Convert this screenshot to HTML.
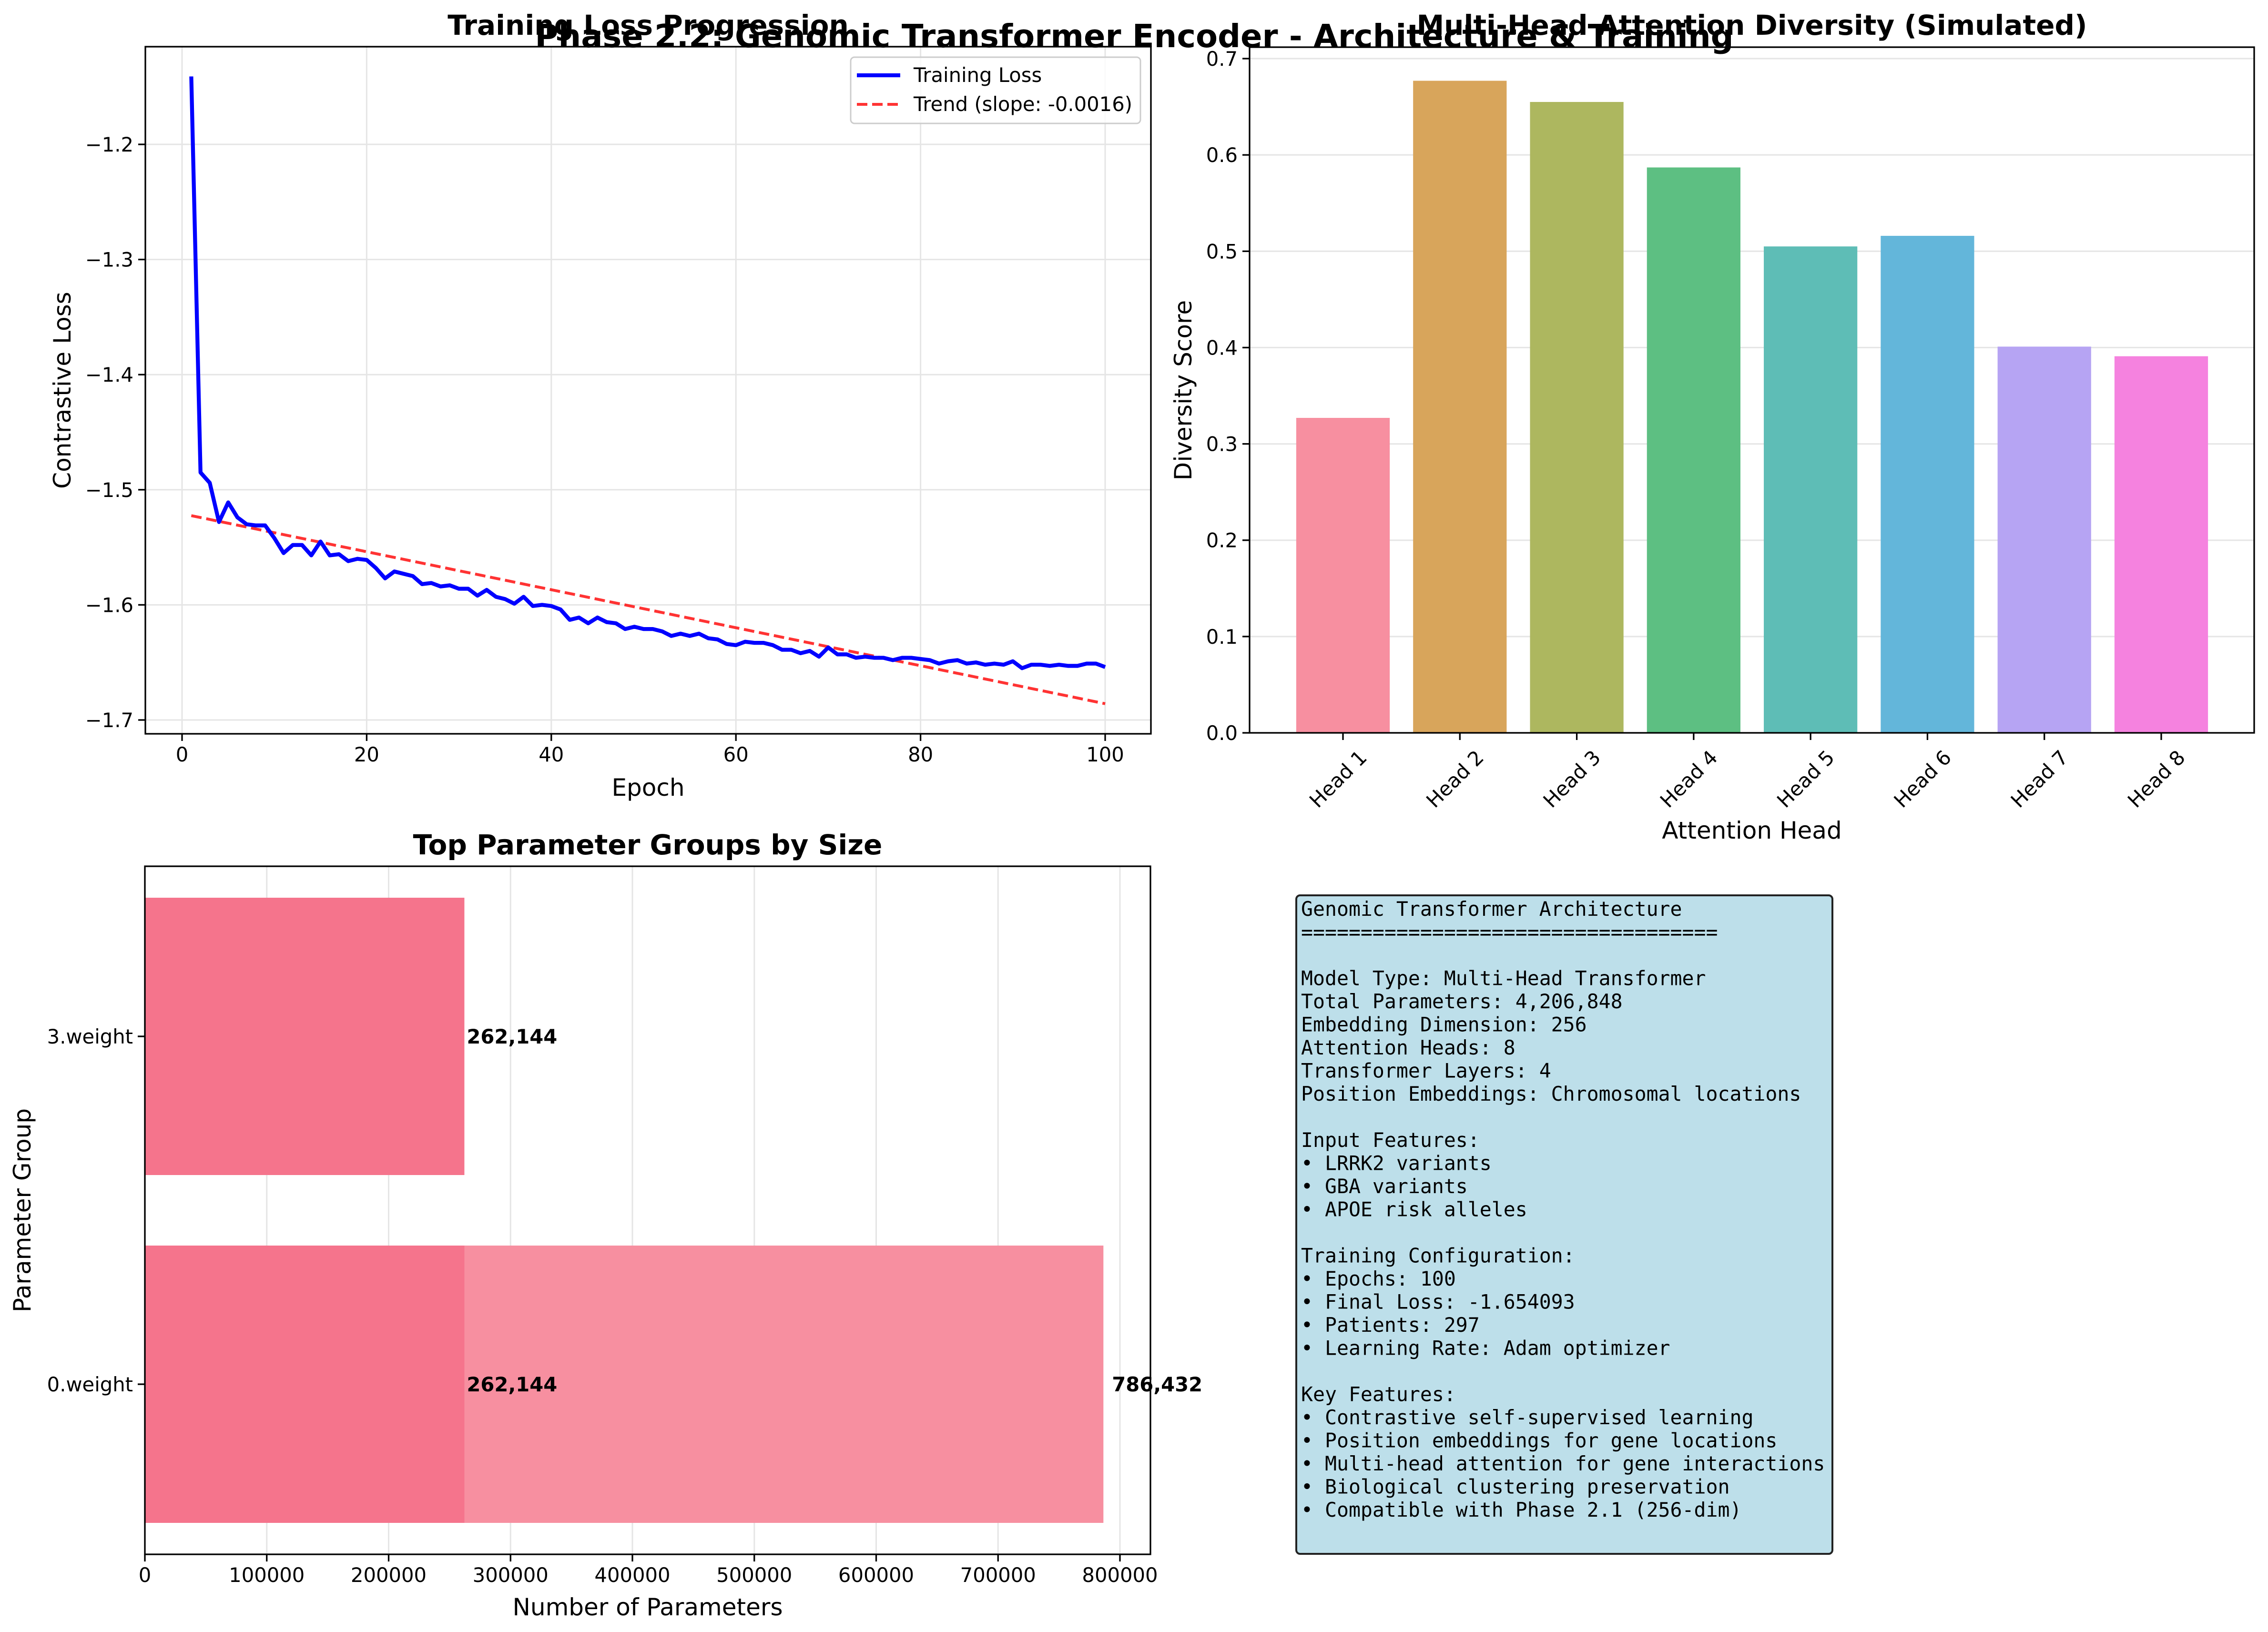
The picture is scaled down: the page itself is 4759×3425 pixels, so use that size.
<!DOCTYPE html>
<html><head><meta charset="utf-8"><style>
html,body{margin:0;padding:0;background:#fff}
svg{display:block}
text{font-family:"DejaVu Sans","Liberation Sans",sans-serif;fill:#000}
.mono{font-family:"DejaVu Sans Mono","Liberation Mono",monospace;font-size:41.5px}
</style></head><body>
<svg id="fig" xmlns="http://www.w3.org/2000/svg" width="4759" height="3425" viewBox="0 0 4759 3425">
<rect width="4759" height="3425" fill="#fff"/>
<g id="p1"></g>
<g id="p2"></g>
<g id="p3"></g>
<g id="p4">
<rect x="2720" y="1879" width="1125" height="1382" rx="8" fill="#bddfea" stroke="#222" stroke-width="4"/>
<text class="mono" x="2730" y="1922" xml:space="preserve"><tspan x="2730" dy="0">Genomic Transformer Architecture</tspan><tspan x="2730" dy="48.5">===================================</tspan><tspan x="2730" dy="97">Model Type: Multi-Head Transformer</tspan><tspan x="2730" dy="48.5">Total Parameters: 4,206,848</tspan><tspan x="2730" dy="48.5">Embedding Dimension: 256</tspan><tspan x="2730" dy="48.5">Attention Heads: 8</tspan><tspan x="2730" dy="48.5">Transformer Layers: 4</tspan><tspan x="2730" dy="48.5">Position Embeddings: Chromosomal locations</tspan><tspan x="2730" dy="97">Input Features:</tspan><tspan x="2730" dy="48.5">• LRRK2 variants</tspan><tspan x="2730" dy="48.5">• GBA variants</tspan><tspan x="2730" dy="48.5">• APOE risk alleles</tspan><tspan x="2730" dy="97">Training Configuration:</tspan><tspan x="2730" dy="48.5">• Epochs: 100</tspan><tspan x="2730" dy="48.5">• Final Loss: -1.654093</tspan><tspan x="2730" dy="48.5">• Patients: 297</tspan><tspan x="2730" dy="48.5">• Learning Rate: Adam optimizer</tspan><tspan x="2730" dy="97">Key Features:</tspan><tspan x="2730" dy="48.5">• Contrastive self-supervised learning</tspan><tspan x="2730" dy="48.5">• Position embeddings for gene locations</tspan><tspan x="2730" dy="48.5">• Multi-head attention for gene interactions</tspan><tspan x="2730" dy="48.5">• Biological clustering preservation</tspan><tspan x="2730" dy="48.5">• Compatible with Phase 2.1 (256-dim)</tspan></text>
</g>
<text x="2380" y="99" font-size="67" font-weight="bold" text-anchor="middle">Phase 2.2: Genomic Transformer Encoder - Architecture &amp; Training</text>
</svg>
<script>
const lossValues=[-1.141,-1.485,-1.494,-1.528,-1.511,-1.524,-1.530,-1.531,-1.531,-1.542,-1.555,-1.548,-1.548,-1.557,-1.545,-1.557,-1.556,-1.562,-1.560,-1.561,-1.568,-1.577,-1.571,-1.573,-1.575,-1.582,-1.581,-1.584,-1.583,-1.586,-1.586,-1.592,-1.587,-1.593,-1.595,-1.599,-1.593,-1.601,-1.600,-1.601,-1.604,-1.613,-1.611,-1.616,-1.611,-1.615,-1.616,-1.621,-1.619,-1.621,-1.621,-1.623,-1.627,-1.625,-1.627,-1.625,-1.629,-1.630,-1.634,-1.635,-1.632,-1.633,-1.633,-1.635,-1.639,-1.639,-1.642,-1.640,-1.645,-1.637,-1.643,-1.643,-1.646,-1.645,-1.646,-1.646,-1.648,-1.646,-1.646,-1.647,-1.648,-1.651,-1.649,-1.648,-1.651,-1.650,-1.652,-1.651,-1.652,-1.649,-1.655,-1.652,-1.652,-1.653,-1.652,-1.653,-1.653,-1.651,-1.651,-1.654];
const trendStart=-1.5225, trendSlope=-0.00165;
const lossXTicks=[0,20,40,60,80,100];
const lossYTicks=[-1.7,-1.6,-1.5,-1.4,-1.3,-1.2];
const heads=["Head 1","Head 2","Head 3","Head 4","Head 5","Head 6","Head 7","Head 8"];
const diversity=[0.327,0.677,0.655,0.587,0.505,0.516,0.401,0.391];
const headColors=["#f78fa0","#d8a55b","#adb75f","#5dbf82","#5ebdb6","#63b6da","#b6a4f3","#f582df"];
const divTicks=[0,0.1,0.2,0.3,0.4,0.5,0.6,0.7];
const paramGroups=["0.weight","3.weight"];
const paramCounts=[786432,262144];
const paramXTicks=[0,100000,200000,300000,400000,500000,600000,700000,800000];
const NS="http://www.w3.org/2000/svg";
function el(p,t,a){const e=document.createElementNS(NS,t);for(const k in a)e.setAttribute(k,a[k]);p.appendChild(e);return e;}
function txt(p,x,y,s,a){const e=el(p,'text',Object.assign({x:x,y:y},a||{}));e.textContent=s;return e;}

// Panel 1
const p1=document.getElementById('p1');
const L={l:305,r:2415,t:98,b:1540};
const x1=v=>382+(v-0)*(2319-382)/100;
const y1=v=>1511+(v+1.7)*(303-1511)/0.5;
lossXTicks.forEach(v=>{const g=el(p1,'line',{x1:x1(v),x2:x1(v),y1:L.t,y2:L.b,stroke:'#e5e5e5','stroke-width':3});


el(p1,'line',{x1:x1(v),x2:x1(v),y1:L.b,y2:L.b+15,stroke:'#000','stroke-width':3.3});
const t=txt(p1,x1(v),L.b+58,String(v),{'font-size':41.7,'text-anchor':'middle'});

});
lossYTicks.forEach(v=>{const g=el(p1,'line',{x1:L.l,x2:L.r,y1:y1(v),y2:y1(v),stroke:'#e5e5e5','stroke-width':3});


el(p1,'line',{x1:L.l-15,x2:L.l,y1:y1(v),y2:y1(v),stroke:'#000','stroke-width':3.3});
const t=txt(p1,L.l-25,y1(v)+15,'−'+Math.abs(v).toFixed(1),{'font-size':41.7,'text-anchor':'end'});

});
const tr=el(p1,'line',{x1:x1(1),y1:y1(trendStart),x2:x1(100),y2:y1(trendStart+trendSlope*99),stroke:'#ff0000','stroke-opacity':0.8,'stroke-width':6,'stroke-dasharray':'22,10'});


const lp=el(p1,'polyline',{points:lossValues.map((v,i)=>x1(i+1)+','+y1(v)).join(' '),fill:'none',stroke:'#0000ff','stroke-width':8.3,'stroke-linejoin':'round'});


el(p1,'rect',{x:L.l,y:L.t,width:L.r-L.l,height:L.b-L.t,fill:'none',stroke:'#000','stroke-width':3.3});
const lg=el(p1,'g',{});


el(lg,'rect',{x:1785,y:120,width:608,height:139,rx:8,fill:'#fff','fill-opacity':0.8,stroke:'#ccc','stroke-width':3});
el(lg,'line',{x1:1798,x2:1889,y1:158,y2:158,stroke:'#0000ff','stroke-width':8.3});
txt(lg,1917,172,'Training Loss',{'font-size':41.7});
el(lg,'line',{x1:1798,x2:1889,y1:219,y2:219,stroke:'#ff0000','stroke-opacity':0.8,'stroke-width':6,'stroke-dasharray':'22,10'});
txt(lg,1917,233,'Trend (slope: -0.0016)',{'font-size':41.7});
let t;
t=txt(p1,1360,73,'Training Loss Progression',{'font-size':58,'font-weight':'bold','text-anchor':'middle'});


t=txt(p1,1360,1670,'Epoch',{'font-size':50,'text-anchor':'middle'});


t=txt(p1,0,0,'Contrastive Loss',{'font-size':50,'text-anchor':'middle',transform:'translate(148,819) rotate(-90)'});



// Panel 2
const p2=document.getElementById('p2');
const R={l:2622,r:4730,t:99,b:1538};
const x2=i=>2818+i*(4535-2818)/7;
const y2=v=>1538+v*(123-1538)/0.7;
divTicks.forEach(v=>{const g=el(p2,'line',{x1:R.l,x2:R.r,y1:y2(v),y2:y2(v),stroke:'#e5e5e5','stroke-width':3});


el(p2,'line',{x1:R.l-15,x2:R.l,y1:y2(v),y2:y2(v),stroke:'#000','stroke-width':3.3});
const t=txt(p2,R.l-25,y2(v)+15,v.toFixed(1),{'font-size':41.7,'text-anchor':'end'});

});
const bw=0.8*(4535-2818)/7;
diversity.forEach((v,i)=>{const b=el(p2,'rect',{x:x2(i)-bw/2,y:y2(v),width:bw,height:y2(0)-y2(v),fill:headColors[i]});


el(p2,'line',{x1:x2(i),x2:x2(i),y1:R.b,y2:R.b+15,stroke:'#000','stroke-width':3.3});
const t=txt(p2,0,0,heads[i],{'font-size':41.7,'text-anchor':'middle',transform:'translate('+x2(i)+',1645) rotate(-45)'});

});
el(p2,'rect',{x:R.l,y:R.t,width:R.r-R.l,height:R.b-R.t,fill:'none',stroke:'#000','stroke-width':3.3});
t=txt(p2,3676,73,'Multi-Head Attention Diversity (Simulated)',{'font-size':58,'font-weight':'bold','text-anchor':'middle'});


t=txt(p2,3676,1760,'Attention Head',{'font-size':50,'text-anchor':'middle'});


t=txt(p2,0,0,'Diversity Score',{'font-size':50,'text-anchor':'middle',transform:'translate(2500,819) rotate(-90)'});



// Panel 3
const p3=document.getElementById('p3');
const B={l:304,r:2414,t:1818,b:3262};
const x3=v=>304+v*(2350-304)/800000;
const yCenter={"0.weight":2905,"3.weight":2175};
const bh=582;
paramXTicks.forEach(v=>{const g=el(p3,'line',{x1:x3(v),x2:x3(v),y1:B.t,y2:B.b,stroke:'#e5e5e5','stroke-width':3});


el(p3,'line',{x1:x3(v),x2:x3(v),y1:B.b,y2:B.b+15,stroke:'#000','stroke-width':3.3});
const t=txt(p3,x3(v),B.b+58,String(v),{'font-size':41.7,'text-anchor':'middle'});

});
paramGroups.forEach((g,i)=>{const c=yCenter[g];
const b=el(p3,'rect',{x:x3(0),y:c-bh/2,width:x3(paramCounts[i])-x3(0),height:bh,fill:i===0?'#f78fa0':'#f5748c'});


el(p3,'line',{x1:B.l-15,x2:B.l,y1:c,y2:c,stroke:'#000','stroke-width':3.3});
const t=txt(p3,B.l-25,c+15,g,{'font-size':41.7,'text-anchor':'end'});

});
const ov=el(p3,'rect',{x:x3(0),y:yCenter["0.weight"]-bh/2,width:x3(paramCounts[1])-x3(0),height:bh,fill:'#f5748c'});


const labels=[[paramCounts[0],yCenter["0.weight"],18],[paramCounts[1],yCenter["3.weight"],5],[paramCounts[1],yCenter["0.weight"],5]];
labels.forEach(([v,c,o])=>{const t=txt(p3,x3(v)+o,c+15,v.toLocaleString('en-US'),{'font-size':41.7,'font-weight':'bold'});

});
el(p3,'rect',{x:B.l,y:B.t,width:B.r-B.l,height:B.b-B.t,fill:'none',stroke:'#000','stroke-width':3.3});
t=txt(p3,1359,1793,'Top Parameter Groups by Size',{'font-size':58,'font-weight':'bold','text-anchor':'middle'});


t=txt(p3,1359,3390,'Number of Parameters',{'font-size':50,'text-anchor':'middle'});


t=txt(p3,0,0,'Parameter Group',{'font-size':50,'text-anchor':'middle',transform:'translate(64,2540) rotate(-90)'});


</script>
</body></html>
